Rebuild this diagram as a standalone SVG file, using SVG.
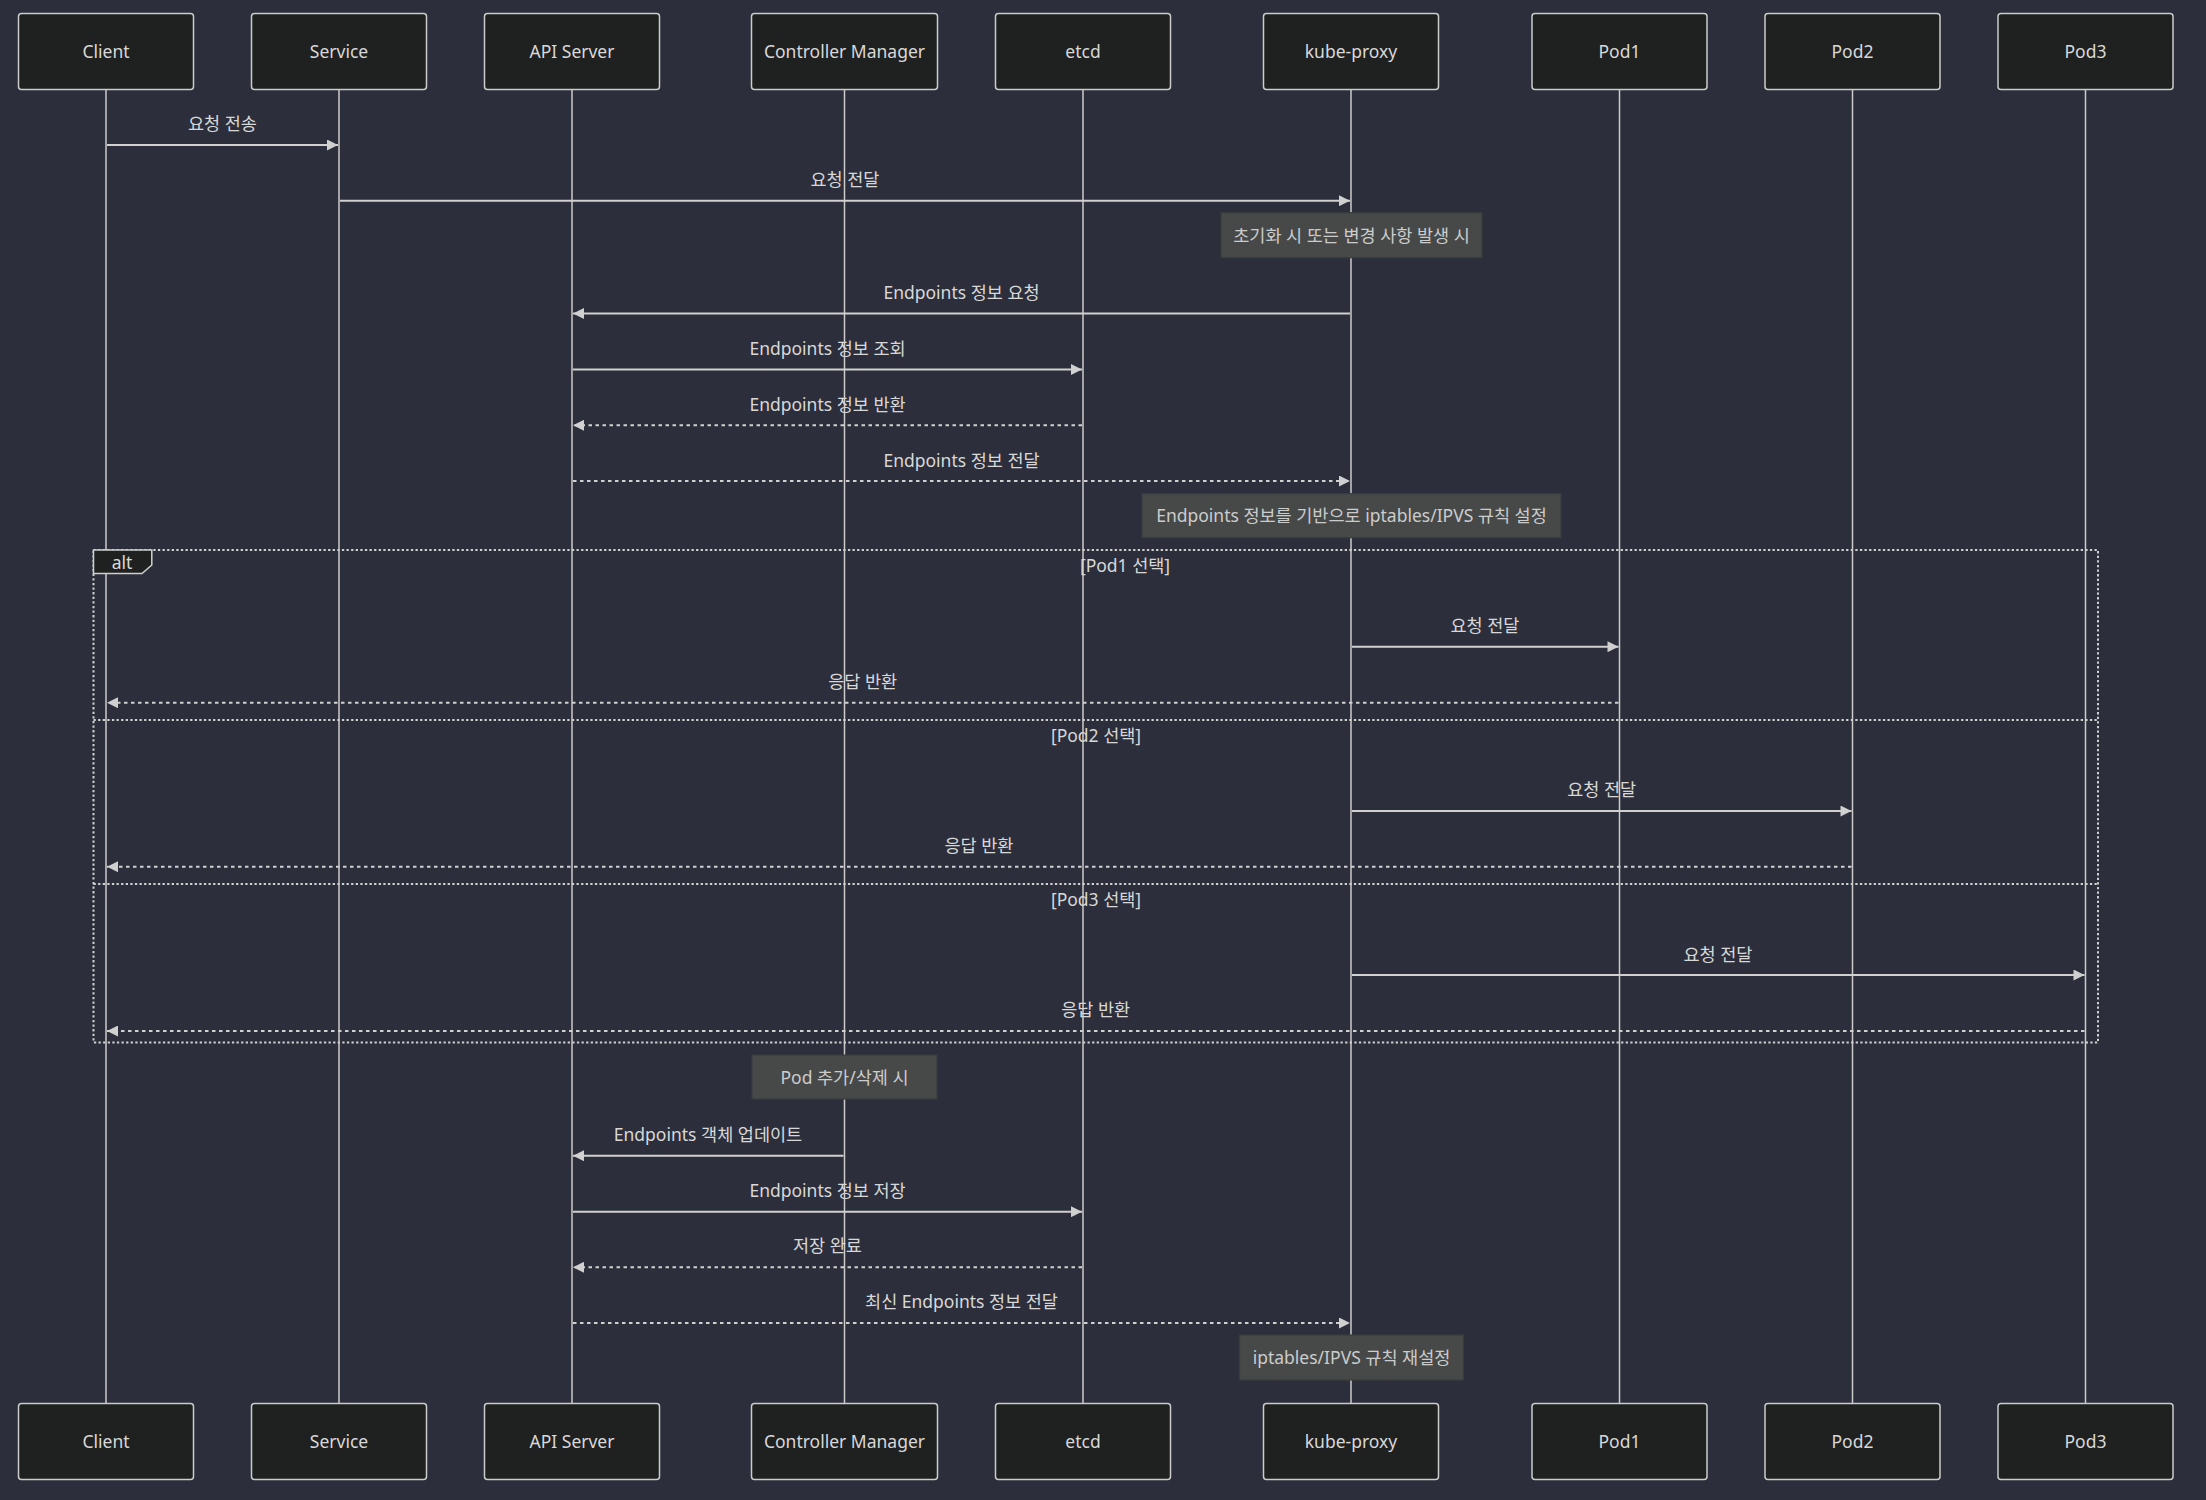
<svg xmlns="http://www.w3.org/2000/svg" width="2206" height="1500" viewBox="0 0 2206 1500">
<style>
  text { font-family: "Noto Sans", "Noto Sans CJK KR", sans-serif; fill: #d8d8d8; }
  .actor rect { fill: #1f2020; stroke: #cccccc; stroke-width: 1.5; }
  .actor text { font-size: 17.5px; text-anchor: middle; dominant-baseline: central; }
  .life { stroke: #cccccc; stroke-width: 1.5; }
  .msg { stroke: #d0d0d0; stroke-width: 2; fill: none; }
  .dot { stroke-dasharray: 3.5 3.5; }
  .lbl { font-size: 17.5px; text-anchor: middle; dominant-baseline: central; }
  .note rect { fill: #474949; stroke: #3a3c3c; stroke-width: 1.2; }
  .note text { font-size: 17.5px; text-anchor: middle; dominant-baseline: central; fill: #cccccc; }
  .loop { stroke: #d0d0d0; stroke-width: 2; stroke-dasharray: 2.3 2.3; fill: none; }
  .loopLbl { fill: #1f2020; stroke: #d0d0d0; stroke-width: 1.5; }
  .sect { font-size: 17.5px; text-anchor: middle; dominant-baseline: central; }
</style>
<defs>
  <marker id="arrow" viewBox="0 0 10 10" refX="10" refY="5" markerUnits="userSpaceOnUse" markerWidth="13" markerHeight="11" orient="auto">
    <path d="M0,0 L10,5 L0,10 z" fill="#d0d0d0"/>
  </marker>
</defs>
<rect x="0" y="0" width="2206" height="1500" fill="#2c2f3b"/>

<g id="lifelines">
  <line class="life" x1="106" y1="89" x2="106" y2="1404"/>
  <line class="life" x1="339" y1="89" x2="339" y2="1404"/>
  <line class="life" x1="572" y1="89" x2="572" y2="1404"/>
  <line class="life" x1="844.5" y1="89" x2="844.5" y2="1404"/>
  <line class="life" x1="1083" y1="89" x2="1083" y2="1404"/>
  <line class="life" x1="1351" y1="89" x2="1351" y2="1404"/>
  <line class="life" x1="1619.5" y1="89" x2="1619.5" y2="1404"/>
  <line class="life" x1="1852.5" y1="89" x2="1852.5" y2="1404"/>
  <line class="life" x1="2085.5" y1="89" x2="2085.5" y2="1404"/>
</g>

<g id="alt-block">
  <rect class="loop" x="93.5" y="550" width="2004.5" height="492.5"/>
  <line class="loop" x1="93.5" y1="720" x2="2098" y2="720"/>
  <line class="loop" x1="93.5" y1="884" x2="2098" y2="884"/>
  <polygon class="loopLbl" points="93.5,550 151.8,550 151.8,565 142,573.5 93.5,573.5"/>
  <text x="122" y="561.5" style="font-size:17.5px; text-anchor:middle; dominant-baseline:central;">alt</text>
  <text class="sect" x="1125" y="564.5">[Pod1 선택]</text>
  <text class="sect" x="1096" y="734.5">[Pod2 선택]</text>
  <text class="sect" x="1096" y="898.5">[Pod3 선택]</text>
</g>

<g id="connectors">
  <line class="msg" x1="107" y1="145" x2="338" y2="145" marker-end="url(#arrow)"/>
  <text class="lbl" x="222.5" y="123">요청 전송</text>

  <line class="msg" x1="340" y1="200.7" x2="1350" y2="200.7" marker-end="url(#arrow)"/>
  <text class="lbl" x="845" y="178.5">요청 전달</text>

  <line class="msg" x1="1350" y1="313.5" x2="573" y2="313.5" marker-end="url(#arrow)"/>
  <text class="lbl" x="961.5" y="291.5">Endpoints 정보 요청</text>

  <line class="msg" x1="573" y1="369.5" x2="1082" y2="369.5" marker-end="url(#arrow)"/>
  <text class="lbl" x="827.5" y="347.5">Endpoints 정보 조회</text>

  <line class="msg dot" x1="1082" y1="425.3" x2="573" y2="425.3" marker-end="url(#arrow)"/>
  <text class="lbl" x="827.5" y="403.5">Endpoints 정보 반환</text>

  <line class="msg dot" x1="573" y1="481" x2="1350" y2="481" marker-end="url(#arrow)"/>
  <text class="lbl" x="961.5" y="459.5">Endpoints 정보 전달</text>

  <line class="msg" x1="1352" y1="646.7" x2="1618.5" y2="646.7" marker-end="url(#arrow)"/>
  <text class="lbl" x="1485" y="625">요청 전달</text>

  <line class="msg dot" x1="1618.5" y1="702.7" x2="107" y2="702.7" marker-end="url(#arrow)"/>
  <text class="lbl" x="862.7" y="680.5">응답 반환</text>

  <line class="msg" x1="1352" y1="811" x2="1851.5" y2="811" marker-end="url(#arrow)"/>
  <text class="lbl" x="1601.7" y="789">요청 전달</text>

  <line class="msg dot" x1="1851.5" y1="866.7" x2="107" y2="866.7" marker-end="url(#arrow)"/>
  <text class="lbl" x="979" y="844.5">응답 반환</text>

  <line class="msg" x1="1352" y1="975" x2="2084.5" y2="975" marker-end="url(#arrow)"/>
  <text class="lbl" x="1718" y="953.5">요청 전달</text>

  <line class="msg dot" x1="2084.5" y1="1031" x2="107" y2="1031" marker-end="url(#arrow)"/>
  <text class="lbl" x="1095.7" y="1009">응답 반환</text>

  <line class="msg" x1="843.5" y1="1155.7" x2="573" y2="1155.7" marker-end="url(#arrow)"/>
  <text class="lbl" x="708" y="1134">Endpoints 객체 업데이트</text>

  <line class="msg" x1="573" y1="1211.7" x2="1082" y2="1211.7" marker-end="url(#arrow)"/>
  <text class="lbl" x="827.5" y="1190">Endpoints 정보 저장</text>

  <line class="msg dot" x1="1082" y1="1267.3" x2="573" y2="1267.3" marker-end="url(#arrow)"/>
  <text class="lbl" x="827.5" y="1245">저장 완료</text>

  <line class="msg dot" x1="573" y1="1323" x2="1350" y2="1323" marker-end="url(#arrow)"/>
  <text class="lbl" x="961.5" y="1301">최신 Endpoints 정보 전달</text>
</g>

<g id="note-init" class="note">
  <rect x="1221" y="212.7" width="261" height="45"/>
  <text x="1351.5" y="234.7">초기화 시 또는 변경 사항 발생 시</text>
</g>
<g id="note-rules" class="note">
  <rect x="1142" y="493.7" width="419" height="44"/>
  <text x="1351.5" y="515.2">Endpoints 정보를 기반으로 iptables/IPVS 규칙 설정</text>
</g>
<g id="note-pod" class="note">
  <rect x="752" y="1055" width="185" height="44"/>
  <text x="844.5" y="1076.5">Pod 추가/삭제 시</text>
</g>
<g id="note-reset" class="note">
  <rect x="1239.5" y="1335" width="224" height="45"/>
  <text x="1351.5" y="1357">iptables/IPVS 규칙 재설정</text>
</g>

<g id="actor-client-top" class="actor"><rect x="18.5" y="13.5" width="175" height="76" rx="3"/><text x="106" y="50.5">Client</text></g>
<g id="actor-service-top" class="actor"><rect x="251.5" y="13.5" width="175" height="76" rx="3"/><text x="339" y="50.5">Service</text></g>
<g id="actor-api-top" class="actor"><rect x="484.5" y="13.5" width="175" height="76" rx="3"/><text x="572" y="50.5">API Server</text></g>
<g id="actor-cm-top" class="actor"><rect x="751.5" y="13.5" width="186" height="76" rx="3"/><text x="844.5" y="50.5">Controller Manager</text></g>
<g id="actor-etcd-top" class="actor"><rect x="995.5" y="13.5" width="175" height="76" rx="3"/><text x="1083" y="50.5">etcd</text></g>
<g id="actor-kp-top" class="actor"><rect x="1263.5" y="13.5" width="175" height="76" rx="3"/><text x="1351" y="50.5">kube-proxy</text></g>
<g id="actor-pod1-top" class="actor"><rect x="1532" y="13.5" width="175" height="76" rx="3"/><text x="1619.5" y="50.5">Pod1</text></g>
<g id="actor-pod2-top" class="actor"><rect x="1765" y="13.5" width="175" height="76" rx="3"/><text x="1852.5" y="50.5">Pod2</text></g>
<g id="actor-pod3-top" class="actor"><rect x="1998" y="13.5" width="175" height="76" rx="3"/><text x="2085.5" y="50.5">Pod3</text></g>

<g id="actor-client-bottom" class="actor"><rect x="18.5" y="1403.5" width="175" height="76" rx="3"/><text x="106" y="1440.5">Client</text></g>
<g id="actor-service-bottom" class="actor"><rect x="251.5" y="1403.5" width="175" height="76" rx="3"/><text x="339" y="1440.5">Service</text></g>
<g id="actor-api-bottom" class="actor"><rect x="484.5" y="1403.5" width="175" height="76" rx="3"/><text x="572" y="1440.5">API Server</text></g>
<g id="actor-cm-bottom" class="actor"><rect x="751.5" y="1403.5" width="186" height="76" rx="3"/><text x="844.5" y="1440.5">Controller Manager</text></g>
<g id="actor-etcd-bottom" class="actor"><rect x="995.5" y="1403.5" width="175" height="76" rx="3"/><text x="1083" y="1440.5">etcd</text></g>
<g id="actor-kp-bottom" class="actor"><rect x="1263.5" y="1403.5" width="175" height="76" rx="3"/><text x="1351" y="1440.5">kube-proxy</text></g>
<g id="actor-pod1-bottom" class="actor"><rect x="1532" y="1403.5" width="175" height="76" rx="3"/><text x="1619.5" y="1440.5">Pod1</text></g>
<g id="actor-pod2-bottom" class="actor"><rect x="1765" y="1403.5" width="175" height="76" rx="3"/><text x="1852.5" y="1440.5">Pod2</text></g>
<g id="actor-pod3-bottom" class="actor"><rect x="1998" y="1403.5" width="175" height="76" rx="3"/><text x="2085.5" y="1440.5">Pod3</text></g>
</svg>
